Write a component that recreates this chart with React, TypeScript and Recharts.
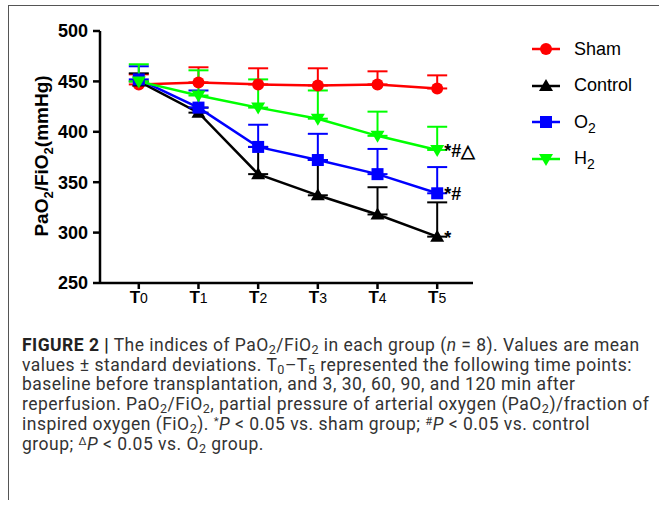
import React from 'react';
import { LineChart, Line, XAxis, YAxis, ErrorBar } from 'recharts';

// time points T0..T5
const timePoints = [0, 1, 2, 3, 4, 5];
const tickSubs = ['0', '1', '2', '3', '4', '5'];
const yTicks = [250, 300, 350, 400, 450, 500];

const shamMean = [447, 449, 447, 446, 447, 443];
const shamSd = [10, 15, 16, 17, 13, 13];
const controlMean = [450, 419, 358, 337, 318, 296];
const controlSd = [8, 5, 27, 35, 27, 34];
const o2Mean = [452, 424, 385, 372, 358, 339];
const o2Sd = [13, 17, 22, 26, 25, 26];
const h2Mean = [450, 436, 424, 413, 396, 382];
const h2Sd = [17, 25, 28, 28, 24, 23];

const series = [
  { key: 'sham', name: 'Sham', sub: '', color: '#ff0000', shape: 'circle', note: '' },
  { key: 'control', name: 'Control', sub: '', color: '#000000', shape: 'up', note: '*' },
  { key: 'o2', name: 'O', sub: '2', color: '#0000ff', shape: 'square', note: '*#' },
  { key: 'h2', name: 'H', sub: '2', color: '#00ff00', shape: 'down', note: '*#\u25B3' },
];

const data = timePoints.map((t, i) => ({
  t,
  sham: shamMean[i],
  shamErr: [0, shamSd[i]],
  control: controlMean[i],
  controlErr: [0, controlSd[i]],
  o2: o2Mean[i],
  o2Err: [0, o2Sd[i]],
  h2: h2Mean[i],
  h2Err: [0, h2Sd[i]],
}));

const font = 'Arial, "Liberation Sans", Helvetica, sans-serif';

const Marker = ({ cx, cy, shape, color }: any) => {
  if (cx == null || cy == null) return null;
  if (shape === 'circle') return <circle cx={cx} cy={cy} r={6} fill={color} />;
  if (shape === 'square') return <rect x={cx - 6} y={cy - 6} width={12} height={12} fill={color} />;
  if (shape === 'up')
    return <polygon points={`${cx},${cy - 7} ${cx - 7},${cy + 5} ${cx + 7},${cy + 5}`} fill={color} />;
  return <polygon points={`${cx},${cy + 7} ${cx - 7},${cy - 5} ${cx + 7},${cy - 5}`} fill={color} />;
};

const XTick = ({ x, y, payload }: any) => (
  <text x={x} y={y + 12} textAnchor="middle" fontFamily={font} fill="#000">
    <tspan fontSize={17} fontWeight="bold">T</tspan>
    <tspan fontSize={14}>{tickSubs[payload.value]}</tspan>
  </text>
);

const YLabel = () => (
  <text
    transform="translate(48,156) rotate(-90)"
    textAnchor="middle"
    fontFamily={font}
    fontWeight="bold"
    fontSize={19}
    fill="#000"
  >
    PaO<tspan fontSize={13} dy={5}>2</tspan>
    <tspan dy={-5}>/FiO</tspan>
    <tspan fontSize={13} dy={5}>2</tspan>
    <tspan dy={-5}>(mmHg)</tspan>
  </text>
);

const LegendBox = () => (
  <div style={{ position: 'absolute', left: 532, top: 31, fontFamily: font, fontSize: 18, color: '#000' }}>
    {series.map((s) => (
      <div key={s.key} style={{ display: 'flex', alignItems: 'center', height: 36.5 }}>
        <svg width={30} height={20} style={{ marginRight: 12 }}>
          <line x1={0} y1={10} x2={28} y2={10} stroke={s.color} strokeWidth={2.5} />
          <Marker cx={14} cy={10} shape={s.shape} color={s.color} />
        </svg>
        <span>
          {s.name}
          {s.sub && (
            <span style={{ fontSize: 14, position: 'relative', top: 5 }}>{s.sub}</span>
          )}
        </span>
      </div>
    ))}
  </div>
);

const noteLabel = (note: string) => (props: any) => {
  const { x, y, index } = props;
  if (index !== 5) return null;
  return (
    <text x={x + 7} y={y + 7} fontFamily={font} fontSize={18} fontWeight="bold" fill="#000">
      {note}
    </text>
  );
};

const Sub = ({ children }: any) => (
  <span
    style={{ display: 'inline-block', fontSize: '0.72em', lineHeight: '0.8em', position: 'relative', top: '0.25em' }}
  >
    {children}
  </span>
);
const Sup = ({ children }: any) => (
  <span
    style={{ display: 'inline-block', fontSize: '0.65em', lineHeight: '0.8em', position: 'relative', top: '-0.4em' }}
  >
    {children}
  </span>
);

export default function App() {
  return (
    <div style={{ position: 'absolute', left: 0, top: 0, width: 659, height: 507, background: '#fff' }}>
      <div style={{ position: 'absolute', left: 8, top: 5, width: 651, height: 1, background: '#555' }} />
      <div style={{ position: 'absolute', left: 8, top: 5, width: 1, height: 495, background: '#555' }} />
      <div style={{ position: 'absolute', left: 0, top: 0 }}>
        <LineChart width={659} height={320} data={data} margin={{ top: 31, right: 186, bottom: 0, left: 40 }}>
          <XAxis
            dataKey="t"
            type="number"
            domain={[-0.65, 5.6]}
            ticks={timePoints}
            tick={<XTick />}
            tickSize={6}
            axisLine={{ stroke: '#000', strokeWidth: 2.5 }}
            tickLine={{ stroke: '#000', strokeWidth: 2.5 }}
            height={37}
          />
          <YAxis
            domain={[250, 500]}
            ticks={yTicks}
            width={60}
            tickSize={7}
            tickMargin={5}
            tick={{ fontFamily: font, fontSize: 18, fontWeight: 'bold', fill: '#000' }}
            axisLine={{ stroke: '#000', strokeWidth: 2.5 }}
            tickLine={{ stroke: '#000', strokeWidth: 2.5 }}
            label={<YLabel />}
          />
          {series.map((s) => (
            <Line
              key={s.key}
              dataKey={s.key}
              name={s.name + s.sub}
              stroke={s.color}
              strokeWidth={2.5}
              isAnimationActive={false}
              dot={(p: any) => <Marker key={`${s.key}-${p.index}`} cx={p.cx} cy={p.cy} shape={s.shape} color={s.color} />}
              activeDot={false}
              label={s.note ? noteLabel(s.note) : false}
            >
              <ErrorBar dataKey={`${s.key}Err`} direction="y" width={10} strokeWidth={2} stroke={s.color} />
            </Line>
          ))}
        </LineChart>
      </div>
      <LegendBox />
      <div
        style={{
          position: 'absolute',
          left: 22,
          top: 336,
          fontFamily: 'Roboto, "Liberation Sans", sans-serif',
          fontSize: 17.5,
          letterSpacing: 0.48,
          lineHeight: '19.7px',
          color: '#333',
          whiteSpace: 'nowrap',
        }}
      >
        <div>
          <b style={{ color: '#222' }}>FIGURE 2 |</b> The indices of PaO<Sub>2</Sub>/FiO<Sub>2</Sub> in each group (<i>n</i> = 8). Values are mean
        </div>
        <div>
          values ± standard deviations. T<Sub>0</Sub>–T<Sub>5</Sub> represented the following time points:
        </div>
        <div>baseline before transplantation, and 3, 30, 60, 90, and 120 min after</div>
        <div>
          reperfusion. PaO<Sub>2</Sub>/FiO<Sub>2</Sub>, partial pressure of arterial oxygen (PaO<Sub>2</Sub>)/fraction of
        </div>
        <div>
          inspired oxygen (FiO<Sub>2</Sub>). <Sup>*</Sup><i>P</i> &lt; 0.05 vs. sham group; <Sup>#</Sup><i>P</i> &lt; 0.05 vs. control
        </div>
        <div>
          group; <Sup>Δ</Sup><i>P</i> &lt; 0.05 vs. O<Sub>2</Sub> group.
        </div>
      </div>
    </div>
  );
}
